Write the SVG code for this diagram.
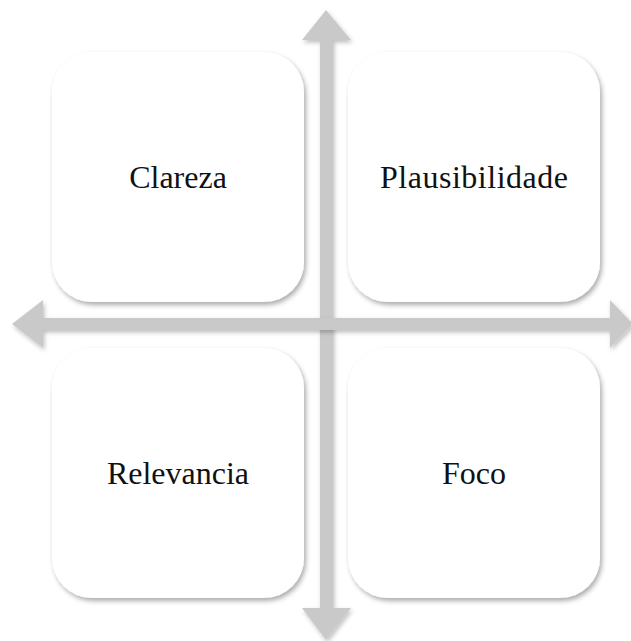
<svg xmlns="http://www.w3.org/2000/svg" width="631" height="641" viewBox="0 0 631 641">
  <defs>
    <filter id="boxShadow" x="-10%" y="-10%" width="125%" height="125%">
      <feDropShadow dx="2" dy="3" stdDeviation="2.5" flood-color="#000" flood-opacity="0.33"/>
    </filter>
    <filter id="arrowShadow" x="-10%" y="-10%" width="125%" height="125%">
      <feDropShadow dx="1.5" dy="2.5" stdDeviation="2" flood-color="#000" flood-opacity="0.25"/>
    </filter>
    <style>
      .box { fill: #ffffff; filter: url(#boxShadow); }
      .arrow { fill: #c9c9c9; filter: url(#arrowShadow); }
      .label { font-family: "Liberation Serif", "DejaVu Serif", serif; font-size: 32px; fill: #111111; text-anchor: middle; }
    </style>
  </defs>
  <rect width="631" height="641" fill="#ffffff"/>

  <g id="clareza">
    <rect class="box" x="52" y="52" width="252" height="250" rx="40" ry="40"/>
    <text class="label" x="178" y="188">Clareza</text>
  </g>
  <g id="plausibilidade">
    <rect class="box" x="348" y="52" width="252" height="250" rx="40" ry="40"/>
    <text class="label" x="474" y="188" textLength="188" lengthAdjust="spacing">Plausibilidade</text>
  </g>
  <g id="relevancia">
    <rect class="box" x="52" y="348" width="252" height="250" rx="40" ry="40"/>
    <text class="label" x="178" y="484">Relevancia</text>
  </g>
  <g id="foco">
    <rect class="box" x="348" y="348" width="252" height="250" rx="40" ry="40"/>
    <text class="label" x="474" y="484">Foco</text>
  </g>

  <g id="connectors">
    <polygon class="arrow" points="326,10 351,40 333,40 333,608 351,608 326,640 302,608 320,608 320,40 302,40"/>
    <polygon class="arrow" points="12,324 43,300 43,318 610,318 610,300 633,324 610,348 610,330 43,330 43,348"/>
  </g>
</svg>
